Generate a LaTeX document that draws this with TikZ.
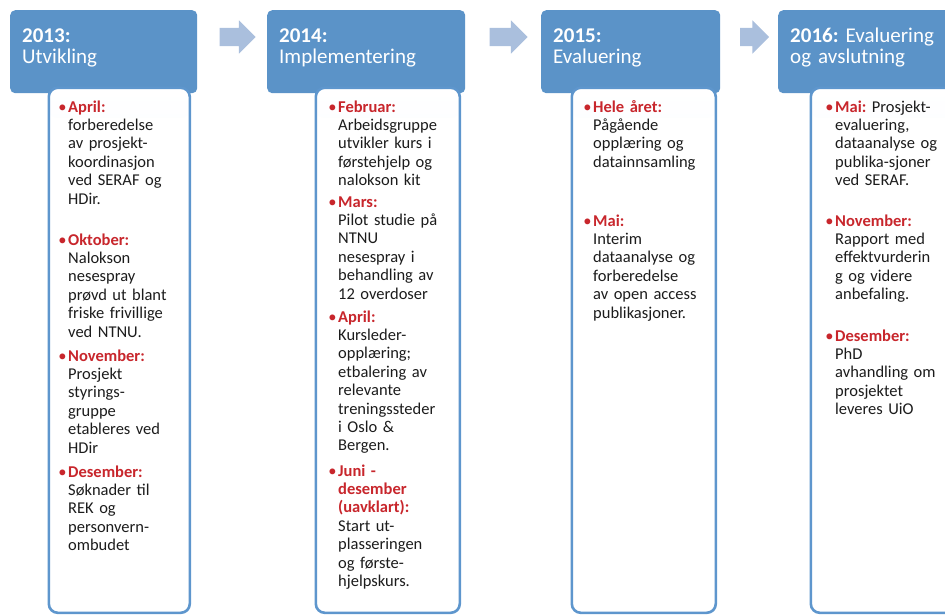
\documentclass[tikz,border=0pt]{standalone}
\usepackage{fontspec}
\setmainfont{Carlito}
\usepackage{xcolor}
\usepackage{tikz}
\usetikzlibrary{positioning,shapes.arrows}

\definecolor{hdrblue}{RGB}{91,147,200}
\definecolor{cardblue}{RGB}{94,150,205}
\definecolor{cardtint}{RGB}{224,234,246}
\definecolor{arrblue}{RGB}{170,191,221}
\definecolor{labred}{RGB}{200,38,44}
\definecolor{txtgray}{RGB}{28,28,28}

% red bullet + bold month label
\newcommand\mnd[1]{\llap{\textcolor{labred}{\textbullet}\hspace{1.5pt}}\textcolor{labred}{\bfseries #1}}
\frenchspacing

\begin{document}
\begin{tikzpicture}[
  x=1pt, y=-1pt,
  hdr/.style   ={rectangle, rounded corners=5pt, fill=hdrblue, anchor=north west,
                 inner sep=0pt, minimum height=83pt},
  hdtxt/.style ={anchor=base west, inner sep=0pt, text=white, text width=180pt,
                 align=left, font=\fontsize{21}{21}\selectfont},
  card/.style  ={rectangle, rounded corners=9pt, draw=cardblue, line width=2.6pt,
                 fill=white, anchor=north west, inner sep=0pt, minimum height=525pt,
                 path picture={\shade[top color=white, bottom color=cardtint]
                   (path picture bounding box.north west) rectangle
                   ([yshift=-30pt]path picture bounding box.north east);}},
  item/.style  ={anchor=base west, inner sep=0pt, text width=140pt, align=left,
                 text=txtgray, font=\fontsize{16.5}{18.4}\selectfont},
  arr/.style   ={single arrow, fill=arrblue, inner xsep=0pt, inner ysep=9pt,
                 single arrow head extend=7.5pt, single arrow tip angle=90},
]
\clip (0,0) rectangle (945,614);

% --- Pilene mellom årene ---
\node[arr, minimum height=36pt] (p1) at (233,37) {};
\node[arr, minimum height=38pt] (p2) at (504,37) {};
\node[arr, minimum height=29pt] (p3) at (750,37) {};

% --- Overskrifter ---
\node[hdr, minimum width=187pt] (hd13) at (10,10)  {};
\node[hdr, minimum width=198pt] (hd14) at (267,10) {};
\node[hdr, minimum width=179pt] (hd15) at (541,10) {};
\node[hdr, minimum width=190pt] (hd16) at (778,10) {};

\node[hdtxt] (t13) at ([shift={(12,32)}]hd13.north west) {\textbf{2013:}\\Utvikling};
\node[hdtxt] (t14) at ([shift={(12,32)}]hd14.north west) {\textbf{2014:}\\Implementering};
\node[hdtxt] (t15) at ([shift={(12,32)}]hd15.north west) {\textbf{2015:}\\Evaluering};
\node[hdtxt] (t16) at ([shift={(12,32)}]hd16.north west) {\textbf{2016:} Evaluering\\og avslutning};

% --- Kort under hver overskrift ---
\node[card, minimum width=141pt] (c13) at (47.5,86.5)  {};
\node[card, minimum width=144pt] (c14) at (314.5,86.5) {};
\node[card, minimum width=144pt] (c15) at (570.5,86.5) {};
\node[card, minimum width=160pt] (c16) at (809.5,86.5) {};

% --- 2013 ---
\node[item] (apr13) at (68,112) {\mnd{April:}\\forberedelse\\av prosjekt-\\koordinasjon\\ved SERAF og\\HDir.};
\node[item] (okt13) at (68,245) {\mnd{Oktober:}\\Nalokson\\nesespray\\prøvd ut blant\\friske frivillige\\ved NTNU.};
\node[item] (nov13) at (68,361) {\mnd{November:}\\Prosjekt\\styrings-\\gruppe\\etableres ved\\HDir};
\node[item] (des13) at (68,477) {\mnd{Desember:}\\Søknader til\\REK og\\personvern-\\ombudet};

% --- 2014 ---
\node[item] (feb14) at (338,112) {\mnd{Februar:}\\Arbeidsgruppe\\utvikler kurs i\\førstehjelp og\\nalokson kit};
\node[item] (mar14) at (338,207) {\mnd{Mars:}\\Pilot studie på\\NTNU\\nesespray i\\behandling av\\12 overdoser};
\node[item] (apr14) at (338,322) {\mnd{April:}\\Kursleder-\\opplæring;\\etbalering av\\relevante\\treningssteder\\i Oslo \&\\Bergen.};
\node[item] (jun14) at (338,476) {\mnd{Juni -}\\{\color{labred}\bfseries desember}\\{\color{labred}\bfseries (uavklart):}\\Start ut-\\plasseringen\\og første-\\hjelpskurs.};

% --- 2015 ---
\node[item] (hel15) at (593,112) {\mnd{Hele året:}\\Pågående\\opplæring og\\datainnsamling};
\node[item] (mai15) at (593,226) {\mnd{Mai:}\\Interim\\dataanalyse og\\forberedelse\\av open access\\publikasjoner.};

% --- 2016 ---
\node[item] (mai16) at (835,112) {\mnd{Mai:} Prosjekt-\\evaluering,\\dataanalyse og\\publika-sjoner\\ved SERAF.};
\node[item] (nov16) at (835,226) {\mnd{November:}\\Rapport med\\effektvurderin\\g og videre\\anbefaling.};
\node[item] (des16) at (835,341) {\mnd{Desember:}\\PhD\\avhandling om\\prosjektet\\leveres UiO};

\end{tikzpicture}
\end{document}
